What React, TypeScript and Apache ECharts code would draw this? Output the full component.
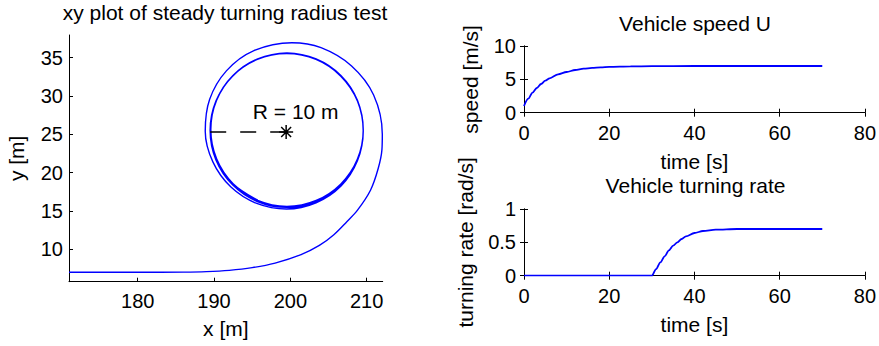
import React, { useEffect, useRef } from "react";
import * as echarts from "echarts";

// Straight run along y = 7 and the widening entry into the turn
const approachX = [171.0, 180.0, 186.0, 189.0, 192.0, 195.0, 198.0, 201.4, 203.8, 205.7, 207.4, 208.8, 210.5, 211.5, 212.0, 212.05];
const approachY = [7.0, 7.0, 7.02, 7.08, 7.25, 7.6, 8.2, 9.3, 10.5, 11.9, 13.6, 15.1, 17.7, 20.5, 23.0, 25.0];

// First lap, radius still shrinking
const spiralX = [210.91, 208.02, 204.02, 200.2, 195.16, 191.62, 189.43, 188.85, 189.85, 192.22, 195.6, 199.5, 203.37, 206.64, 208.79, 209.55];
const spiralY = [30.13, 33.92, 36.3, 36.95, 35.89, 33.28, 29.57, 25.4, 21.4, 18.12, 15.98, 15.25, 16.07, 18.26, 21.55, 25.4];

// Steady laps at R ~ 10 m
const lapAX = [208.79, 206.61, 203.36, 199.52, 195.68, 192.43, 190.25, 189.49, 190.25, 192.43, 195.68, 199.52, 203.36, 206.61, 208.79, 209.55];
const lapAY = [29.34, 32.59, 34.77, 35.53, 34.77, 32.59, 29.34, 25.5, 21.66, 18.41, 16.23, 15.47, 16.23, 18.41, 21.66, 25.5];
const lapBX = [208.79, 206.62, 203.38, 199.55, 195.72, 192.48, 190.31, 189.55, 190.31, 192.48, 195.72, 199.55, 203.38, 206.62, 208.79, 209.55];
const lapBY = [29.43, 32.67, 34.84, 35.6, 34.84, 32.67, 29.43, 25.6, 21.77, 18.53, 16.37, 15.6, 16.37, 18.53, 21.77, 25.6];
const lapCX = [208.78, 206.62, 203.38, 199.56, 195.74, 192.5, 190.34, 189.58, 190.34, 192.5, 195.74];
const lapCY = [29.44, 32.68, 34.84, 35.6, 34.84, 32.68, 29.44, 25.62, 21.8, 18.56, 16.4];

// Turn centre and the radius annotation
const centre = [199.45, 25.3];
const radiusStartX = 189.5;
const radiusLabel = "R = 10 m";
const radiusLabelPos = [200.7, 28.0];

// Time histories
const speedT = [0, 1, 2, 3, 4, 5, 6, 8, 10, 12, 14, 16, 18, 20, 25, 30, 40, 50, 60, 70];
const speedU = [1.0, 2.1, 3.0, 3.7, 4.3, 4.8, 5.15, 5.75, 6.1, 6.4, 6.6, 6.72, 6.8, 6.86, 6.94, 6.97, 7.0, 7.0, 7.0, 7.0];
const rateT = [0, 10, 20, 30, 31, 32, 33, 34, 35, 36, 37, 38, 40, 42, 45, 50, 60, 70];
const rateR = [0, 0, 0, 0, 0.1, 0.2, 0.29, 0.38, 0.45, 0.5, 0.55, 0.59, 0.64, 0.67, 0.69, 0.7, 0.7, 0.7];

const xyTicksX = [180, 190, 200, 210];
const xyTicksY = [10, 15, 20, 25, 30, 35];

const FONT = "'Liberation Sans', Arial, Helvetica, sans-serif";
const BLUE = "#0000ff";

function zip(xs: number[], ys: number[]) {
  return xs.map((x, i) => [x, ys[i]]);
}

export default function App() {
  const ref = useRef<HTMLDivElement>(null);

  useEffect(() => {
    if (!ref.current) return;
    const chart = echarts.init(ref.current, undefined, { renderer: "svg" });

    const pathData = [
      ...zip(approachX, approachY),
      ...zip(spiralX, spiralY),
      ...zip(lapAX, lapAY),
      ...zip(lapBX, lapBY),
      ...zip(lapCX, lapCY),
    ];

    const axisLine = { show: true, lineStyle: { color: "#000", width: 1 } };
    const tick = { show: true, inside: true, length: 4, lineStyle: { color: "#000", width: 1 } };
    const label = { color: "#000", fontSize: 20, fontFamily: FONT };
    const nameStyle = { color: "#000", fontSize: 21, fontFamily: FONT };
    const titleStyle = { color: "#000", fontSize: 21, fontFamily: FONT, fontWeight: "normal" as const };

    const timeAxis = (grid: number, name: string, gap: number) => ({
      type: "value" as const,
      gridIndex: grid,
      min: 0,
      max: 80,
      interval: 20,
      name,
      nameLocation: "middle" as const,
      nameGap: gap,
      nameTextStyle: nameStyle,
      axisLine,
      axisTick: tick,
      axisLabel: { ...label, margin: 10 },
      splitLine: { show: false },
    });
    const mirrorX = (grid: number) => ({
      type: "value" as const,
      gridIndex: grid,
      position: "top" as const,
      min: 0,
      max: 80,
      interval: 20,
      axisLine,
      axisTick: tick,
      axisLabel: { show: false },
      splitLine: { show: false },
    });
    const mirrorY = (grid: number, max: number, interval: number) => ({
      type: "value" as const,
      gridIndex: grid,
      position: "right" as const,
      min: 0,
      max,
      interval,
      axisLine,
      axisTick: tick,
      axisLabel: { show: false },
      splitLine: { show: false },
    });

    chart.setOption({
      animation: false,
      backgroundColor: "#fff",
      title: [
        { text: "xy plot of steady turning radius test", left: 225, top: 2, textAlign: "center", padding: 0, textStyle: titleStyle },
        { text: "Vehicle speed U", left: 695, top: 13, textAlign: "center", padding: 0, textStyle: titleStyle },
        { text: "Vehicle turning rate", left: 695.5, top: 175, textAlign: "center", padding: 0, textStyle: titleStyle },
      ],
      grid: [
        { left: 69, top: 35, width: 313.7, height: 246.7 },
        { left: 524, top: 46, width: 341, height: 66.7 },
        { left: 524, top: 209, width: 341, height: 66.7 },
      ],
      xAxis: [
        {
          type: "value",
          gridIndex: 0,
          min: 171.0,
          max: 212.1,
          name: "x [m]",
          nameLocation: "middle",
          nameGap: 36,
          nameTextStyle: nameStyle,
          axisLine,
          axisTick: { ...tick, customValues: xyTicksX },
          axisLabel: { ...label, margin: 9, customValues: xyTicksX },
          splitLine: { show: false },
        },
        timeAxis(1, "time [s]", 38.5),
        timeAxis(2, "time [s]", 38),
        mirrorX(1),
        mirrorX(2),
      ],
      yAxis: [
        {
          type: "value",
          gridIndex: 0,
          min: 5.77,
          max: 37.96,
          name: "y [m]",
          nameLocation: "middle",
          nameGap: 42,
          nameTextStyle: nameStyle,
          axisLine,
          axisTick: { ...tick, customValues: xyTicksY },
          axisLabel: { ...label, margin: 6, customValues: xyTicksY },
          splitLine: { show: false },
        },
        {
          type: "value",
          gridIndex: 1,
          min: 0,
          max: 10,
          interval: 5,
          name: "speed [m/s]",
          nameLocation: "middle",
          nameGap: 43.5,
          nameTextStyle: nameStyle,
          axisLine,
          axisTick: tick,
          axisLabel: { ...label, margin: 8 },
          splitLine: { show: false },
        },
        {
          type: "value",
          gridIndex: 2,
          min: 0,
          max: 1,
          interval: 0.5,
          name: "turning rate [rad/s]",
          nameLocation: "middle",
          nameGap: 48.5,
          nameTextStyle: nameStyle,
          axisLine,
          axisTick: tick,
          axisLabel: { ...label, margin: 8 },
          splitLine: { show: false },
        },
        mirrorY(1, 10, 5),
        mirrorY(2, 1, 0.5),
      ],
      series: [
        {
          type: "line",
          xAxisIndex: 0,
          yAxisIndex: 0,
          data: pathData,
          smooth: 0.34,
          symbol: "none",
          lineStyle: { color: BLUE, width: 1.4 },
        },
        {
          type: "line",
          xAxisIndex: 0,
          yAxisIndex: 0,
          data: [
            [radiusStartX, centre[1]],
            [centre[0], centre[1]],
          ],
          symbol: "none",
          lineStyle: { color: "#000", width: 1.5, type: [16, 14] },
        },
        {
          type: "scatter",
          xAxisIndex: 0,
          yAxisIndex: 0,
          data: [centre],
          symbol: "path://M0,-10L0,10M-10,0L10,0M-7.07,-7.07L7.07,7.07M-7.07,7.07L7.07,-7.07",
          symbolSize: 14,
          itemStyle: { color: "none", borderColor: "#000", borderWidth: 1.5, opacity: 1 },
        },
        {
          type: "scatter",
          xAxisIndex: 0,
          yAxisIndex: 0,
          data: [radiusLabelPos],
          symbolSize: 1,
          itemStyle: { color: "rgba(0,0,0,0)", opacity: 1 },
          label: { show: true, position: "inside", formatter: radiusLabel, color: "#000", fontSize: 21, fontFamily: FONT },
        },
        {
          type: "line",
          xAxisIndex: 1,
          yAxisIndex: 1,
          data: zip(speedT, speedU),
          smooth: 0.3,
          smoothMonotone: "x",
          symbol: "none",
          lineStyle: { color: BLUE, width: 1.8 },
        },
        {
          type: "line",
          xAxisIndex: 2,
          yAxisIndex: 2,
          data: zip(rateT, rateR),
          smooth: 0.3,
          smoothMonotone: "x",
          symbol: "none",
          lineStyle: { color: BLUE, width: 1.8 },
        },
      ],
    });

    return () => chart.dispose();
  }, []);

  return (
    <div
      ref={ref}
      style={{ position: "absolute", left: 0, top: 0, width: 879, height: 346, background: "#fff" }}
    />
  );
}
